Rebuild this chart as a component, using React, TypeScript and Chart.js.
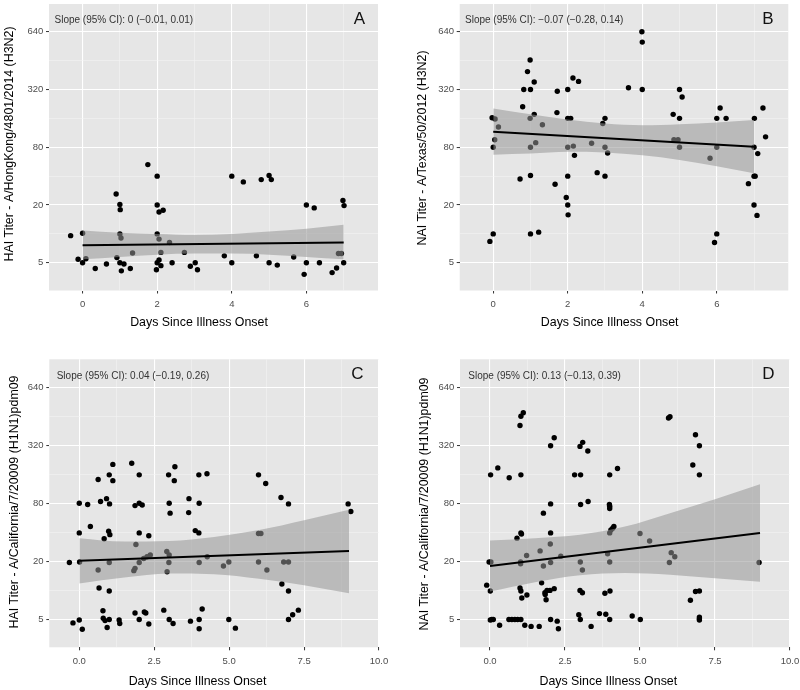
import React, { useEffect, useRef } from 'react';
import { Chart, registerables } from 'chart.js';

Chart.register(...registerables);

const FONT = '"Liberation Sans", Arial, Helvetica, sans-serif';

// ---- shared axis definitions (y = position on the titer scale, 5 -> 0, 20 -> 1, ...)
const yMajorValues = [0, 1, 2, 3, 4];
const yMajorLabels = ['5', '20', '80', '320', '640'];
const yMinorValues = [0.5, 1.5, 2.5, 3.5];

const weekMajorValues = [0, 2, 4, 6];
const weekMajorLabels = ['0', '2', '4', '6'];
const weekMinorValues = [1, 3, 5, 7];

const longMajorValues = [0, 2.5, 5, 7.5, 10];
const longMajorLabels = ['0.0', '2.5', '5.0', '7.5', '10.0'];
const longMinorValues = [1.25, 3.75, 6.25, 8.75];

// ---- Panel A: HAI A/HongKong/4801/2014 (H3N2)
const aDays = [-0.32, -0.12, 0.0, 0.0, 0.09, 0.34, 0.64, 0.9, 1.0, 1.01, 1.0, 1.03, 0.92, 1.0, 1.11, 1.04, 1.28, 1.34, 1.75, 2.0, 2.0, 2.05, 2.16, 2.0, 2.05, 2.1, 2.33, 2.0, 2.05, 1.98, 2.1, 2.4, 2.73, 2.89, 3.02, 3.08, 3.8, 4.0, 4.0, 4.31, 4.66, 4.79, 5.0, 5.06, 5.0, 5.22, 5.66, 6.0, 6.21, 6.0, 5.94, 6.35, 6.69, 6.81, 6.86, 6.94, 6.98, 7.01, 7.0];
const aTiter = [0.47, 0.06, 0.0, 0.51, 0.07, -0.1, -0.02, 1.19, 1.01, 0.92, 0.5, 0.43, 0.09, 0.0, -0.02, -0.14, -0.1, 0.17, 1.7, 1.5, 1.0, 0.88, 0.91, 0.5, 0.41, 0.18, 0.35, 0.0, 0.05, -0.12, -0.05, 0.0, 0.18, -0.06, 0.0, -0.12, 0.12, 0.0, 1.5, 1.4, 0.12, 1.44, 1.51, 1.44, 0.0, -0.04, 0.1, 1.0, 0.95, 0.0, -0.2, 0.0, -0.17, -0.09, 0.16, 0.16, 1.08, 0.99, 0.0];
const aFitDays = [0, 7];
const aFitTiter = [0.305, 0.35];
const aBandDays = [0, 1, 2, 3, 4, 5, 6, 7];
const aBandUpper = [0.56, 0.52, 0.5, 0.48, 0.5, 0.54, 0.59, 0.66];
const aBandLower = [0.06, 0.1, 0.14, 0.16, 0.16, 0.14, 0.1, 0.06];

// ---- Panel B: NAI A/Texas/50/2012 (H3N2)
const bDays = [-0.09, 0.0, -0.03, 0.05, 0.14, 0.04, 0.0, 0.99, 0.92, 1.1, 0.82, 1.0, 0.79, 1.1, 0.99, 1.32, 1.0, 1.14, 0.72, 1.0, 1.0, 1.22, 1.72, 1.71, 2.0, 2.14, 2.29, 2.0, 2.08, 2.0, 2.15, 2.18, 1.66, 2.0, 1.96, 2.0, 2.01, 2.64, 2.94, 3.0, 3.0, 3.07, 2.79, 3.0, 3.99, 4.0, 3.63, 4.0, 5.0, 5.07, 4.83, 5.0, 4.85, 4.96, 5.0, 6.09, 6.0, 6.25, 6.0, 5.82, 6.0, 5.94, 7.01, 7.24, 7.31, 7.0, 7.1, 7.0, 7.03, 6.85, 7.0, 7.08];
const bTiter = [0.37, 0.5, 2.51, 2.49, 2.35, 2.13, 2.0, 3.51, 3.31, 3.13, 3.0, 3.0, 2.7, 2.57, 2.5, 2.39, 2.0, 2.08, 1.45, 1.51, 0.5, 0.53, 2.97, 2.6, 3.0, 3.2, 3.14, 2.5, 2.5, 2.0, 2.02, 1.86, 1.36, 1.5, 1.13, 1.0, 0.83, 2.07, 2.41, 2.5, 2.0, 1.9, 1.56, 1.5, 4.0, 3.82, 3.03, 3.0, 3.0, 2.87, 2.57, 2.5, 2.13, 2.13, 2.0, 2.68, 2.5, 2.5, 2.0, 1.81, 0.5, 0.35, 2.5, 2.68, 2.18, 2.0, 1.89, 1.5, 1.5, 1.37, 1.0, 0.82];
const bFitDays = [0, 7];
const bFitTiter = [2.27, 2.01];
const bBandDays = [0, 1, 2, 3, 4, 5, 6, 7];
const bBandUpper = [2.67, 2.57, 2.48, 2.41, 2.38, 2.4, 2.43, 2.47];
const bBandLower = [1.87, 1.89, 1.92, 1.91, 1.86, 1.78, 1.67, 1.55];

// ---- Panel C: HAI A/California/7/2009 (H1N1)pdm09
const cDays = [-0.33, 0.01, 0.0, 0.28, 0.0, 0.37, -0.21, 0.0, 0.1, 0.63, 1.12, 1.0, 1.12, 0.71, 0.91, 1.01, 0.98, 1.02, 0.83, 0.63, 1.0, 0.66, 1.0, 0.79, 0.8, 0.86, 0.93, 1.0, 1.33, 1.35, 1.75, 2.0, 1.86, 2.0, 2.1, 2.0, 2.32, 1.89, 1.86, 1.82, 2.0, 2.15, 2.26, 2.37, 1.86, 2.0, 2.17, 2.22, 2.32, 2.98, 3.19, 3.17, 3.0, 3.03, 2.92, 3.0, 2.99, 2.93, 2.82, 3.0, 3.13, 3.66, 3.65, 3.87, 3.99, 3.99, 4.26, 4.0, 4.0, 4.27, 3.71, 4.0, 4.0, 4.1, 4.81, 4.99, 4.99, 5.21, 5.98, 6.22, 6.73, 6.98, 5.98, 6.06, 5.98, 6.26, 6.82, 6.98, 6.76, 6.98, 6.98, 7.12, 7.31, 8.97, 9.06];
const cTiter = [0.98, 0.99, 2.0, 1.98, 1.49, 1.6, -0.06, -0.01, -0.17, 2.41, 2.67, 2.49, 2.39, 2.03, 2.08, 1.99, 1.52, 1.46, 1.39, 0.85, 0.98, 0.54, 0.49, 0.15, 0.02, -0.02, -0.14, 0.0, -0.01, -0.07, 2.69, 2.49, 1.96, 2.0, 1.97, 1.49, 1.44, 1.29, 0.88, 0.84, 0.98, 1.05, 1.08, 1.11, 0.11, 0.0, 0.13, 0.11, -0.08, 2.49, 2.63, 2.39, 2.0, 1.83, 1.17, 1.11, 0.98, 0.82, 0.16, 0.0, -0.07, 2.08, 1.84, 1.53, 1.49, 2.49, 2.51, 2.0, 0.98, 1.08, -0.03, 0.0, -0.16, 0.18, 0.92, 0.99, 0.0, -0.15, 2.49, 2.34, 2.1, 1.99, 1.48, 1.48, 0.99, 0.85, 0.99, 0.99, 0.61, 0.49, 0.0, 0.08, 0.16, 1.99, 1.86];
const cFitDays = [0, 9];
const cFitTiter = [1.01, 1.18];
const cBandDays = [0, 1.5, 3, 4.5, 6, 7.5, 9];
const cBandUpper = [1.4, 1.34, 1.35, 1.42, 1.54, 1.71, 1.89];
const cBandLower = [0.62, 0.72, 0.79, 0.78, 0.7, 0.59, 0.45];

// ---- Panel D: NAI A/California/7/2009 (H1N1)pdm09
const dDays = [-0.11, 0.01, -0.03, 0.03, 0.02, 0.26, 0.01, 0.06, 0.11, 0.32, 0.64, 1.03, 1.0, 1.03, 1.11, 0.9, 1.03, 1.05, 1.22, 1.02, 1.02, 1.0, 1.03, 1.23, 1.06, 0.63, 0.73, 0.83, 0.92, 1.03, 1.16, 1.37, 1.64, 1.78, 1.67, 1.78, 1.72, 1.83, 1.9, 2.0, 2.14, 1.87, 1.84, 2.02, 2.14, 2.02, 2.02, 2.01, 2.02, 2.36, 2.02, 2.24, 2.28, 2.82, 3.02, 3.0, 3.09, 3.26, 3.02, 3.27, 3.01, 3.08, 3.0, 3.08, 2.96, 3.01, 3.37, 3.65, 3.86, 3.99, 3.83, 4.0, 3.99, 4.25, 3.98, 3.99, 3.99, 3.99, 4.03, 4.09, 4.13, 3.92, 3.99, 5.95, 6.0, 6.85, 6.98, 6.76, 6.98, 5.0, 5.32, 6.04, 6.16, 5.98, 8.97, 6.85, 6.98, 6.68, 4.74, 5.01, 6.98, 6.98, 6.98];
const dTiter = [0.59, 0.49, 0.99, 0.99, 2.49, 2.61, -0.01, 0.0, 0.0, -0.1, 2.44, 2.49, 3.34, 3.5, 3.56, 1.4, 1.49, 1.47, 1.1, 0.99, 0.96, 0.54, 0.49, 0.42, 0.37, 0.0, 0.0, 0.0, 0.0, 0.0, -0.1, -0.12, -0.12, 1.83, 1.18, 0.92, 0.63, 0.46, 0.5, 0.5, 0.53, 0.34, 0.43, 2.99, 3.13, 1.99, 1.49, 1.3, 0.98, 1.09, 0.0, -0.03, -0.16, 2.49, 2.49, 2.98, 3.05, 2.9, 1.98, 2.03, 0.99, 0.85, 0.5, 0.46, 0.08, 0.0, -0.12, 0.1, 0.09, 0.0, 0.45, 0.49, 2.49, 2.6, 1.98, 1.95, 1.91, 1.49, 1.54, 1.57, 1.6, 1.13, 0.99, 3.47, 3.49, 3.18, 2.99, 2.66, 2.49, 1.48, 1.35, 1.15, 1.08, 0.98, 0.98, 0.48, 0.49, 0.33, 0.06, 0.0, 0.04, 0.01, -0.01];
const dFitDays = [0, 9];
const dFitTiter = [0.92, 1.49];
const dBandDays = [0, 1.5, 3, 4.5, 6, 7.5, 9];
const dBandUpper = [1.36, 1.4, 1.46, 1.6, 1.83, 2.07, 2.33];
const dBandLower = [0.48, 0.64, 0.76, 0.8, 0.77, 0.71, 0.65];

const PANEL_BG = '#e6e6e6';
const BAND_FILL = 'rgba(150,150,150,0.55)';

type PanelDef = {
  left: number; top: number;
  days: number[]; titer: number[];
  fitDays: number[]; fitTiter: number[];
  bandDays: number[]; bandUpper: number[]; bandLower: number[];
  xMin: number; xMax: number;
  xMajor: number[]; xMajorLabels: string[]; xMinor: number[];
  plotLeft: number; plotRight: number; plotTop: number; plotBottom: number;
  slope: string; slopeX: number; slopeY: number;
  letter: string; letterX: number; letterY: number;
  xTitle: string; xTitleX: number; xTitleY: number;
  yTitle: string; yTitleX: number; yTitleY: number;
};

const W = 400;
const H = 345;

const panels: PanelDef[] = [
  {
    left: 0, top: 0, days: aDays, titer: aTiter, fitDays: aFitDays, fitTiter: aFitTiter,
    bandDays: aBandDays, bandUpper: aBandUpper, bandLower: aBandLower,
    xMin: -0.9, xMax: 7.92, xMajor: weekMajorValues, xMajorLabels: weekMajorLabels, xMinor: weekMinorValues,
    plotLeft: 49, plotRight: 378, plotTop: 2.7, plotBottom: 290.5,
    slope: 'Slope (95% CI): 0 (\u22120.01, 0.01)', slopeX: 54.5, slopeY: 20.7,
    letter: 'A', letterX: 359.5, letterY: 19.5,
    xTitle: 'Days Since Illness Onset', xTitleX: 199, xTitleY: 322.7,
    yTitle: 'HAI Titer - A/HongKong/4801/2014 (H3N2)', yTitleX: 9.5, yTitleY: 144,
  },
  {
    left: 400, top: 0, days: bDays, titer: bTiter, fitDays: bFitDays, fitTiter: bFitTiter,
    bandDays: bBandDays, bandUpper: bBandUpper, bandLower: bBandLower,
    xMin: -0.9, xMax: 7.92, xMajor: weekMajorValues, xMajorLabels: weekMajorLabels, xMinor: weekMinorValues,
    plotLeft: 59.7, plotRight: 388.3, plotTop: 2.7, plotBottom: 290.5,
    slope: 'Slope (95% CI): \u22120.07 (\u22120.28, 0.14)', slopeX: 65, slopeY: 20.7,
    letter: 'B', letterX: 368, letterY: 19.5,
    xTitle: 'Days Since Illness Onset', xTitleX: 209.7, xTitleY: 322.7,
    yTitle: 'NAI Titer - A/Texas/50/2012 (H3N2)', yTitleX: 22.5, yTitleY: 148,
  },
  {
    left: 0, top: 345, days: cDays, titer: cTiter, fitDays: cFitDays, fitTiter: cFitTiter,
    bandDays: cBandDays, bandUpper: cBandUpper, bandLower: cBandLower,
    xMin: -1, xMax: 10, xMajor: longMajorValues, xMajorLabels: longMajorLabels, xMinor: longMinorValues,
    plotLeft: 49.3, plotRight: 379, plotTop: 14.3, plotBottom: 302.3,
    slope: 'Slope (95% CI): 0.04 (\u22120.19, 0.26)', slopeX: 56.7, slopeY: 31,
    letter: 'C', letterX: 357.5, letterY: 29.5,
    xTitle: 'Days Since Illness Onset', xTitleX: 197.5, xTitleY: 336.7,
    yTitle: 'HAI Titer - A/California/7/20009 (H1N1)pdm09', yTitleX: 15, yTitleY: 157,
  },
  {
    left: 400, top: 345, days: dDays, titer: dTiter, fitDays: dFitDays, fitTiter: dFitTiter,
    bandDays: dBandDays, bandUpper: dBandUpper, bandLower: dBandLower,
    xMin: -1, xMax: 10, xMajor: longMajorValues, xMajorLabels: longMajorLabels, xMinor: longMinorValues,
    plotLeft: 60, plotRight: 390, plotTop: 14.3, plotBottom: 302.3,
    slope: 'Slope (95% CI): 0.13 (\u22120.13, 0.39)', slopeX: 68.3, slopeY: 31,
    letter: 'D', letterX: 368.3, letterY: 29.5,
    xTitle: 'Days Since Illness Onset', xTitleX: 208.3, xTitleY: 336.7,
    yTitle: 'NAI Titer - A/California/7/20009 (H1N1)pdm09', yTitleX: 25, yTitleY: 159,
  },
];

function axis(majors: number[], labels: string[], minors: number[], min: number, max: number,
  fit: (s: any) => void, padding: number) {
  const all = [...majors, ...minors].filter((v) => v >= min && v <= max).sort((a, b) => a - b);
  const isMajor = (c: any) => !!(c && c.tick && majors.indexOf(c.tick.value) >= 0);
  return {
    type: 'linear' as const,
    min, max,
    afterBuildTicks: (s: any) => { s.ticks = all.map((v) => ({ value: v })); },
    afterFit: fit,
    ticks: {
      autoSkip: false, maxRotation: 0, minRotation: 0, padding,
      color: '#4d4d4d', font: { size: 9.5, family: FONT },
      callback: (v: any) => { const i = majors.indexOf(Number(v)); return i >= 0 ? labels[i] : ''; },
    },
    grid: {
      drawTicks: true, tickLength: 3, tickWidth: 1,
      color: (c: any) => (isMajor(c) ? '#ffffff' : '#f4f4f4'),
      lineWidth: (c: any) => (isMajor(c) ? 1.1 : 0.55),
      tickColor: (c: any) => (isMajor(c) ? '#333333' : 'rgba(0,0,0,0)'),
    },
    border: { display: false },
  };
}

function buildConfig(p: PanelDef): any {
  const decor = {
    id: 'decor',
    beforeDraw(chart: any) {
      const { ctx, chartArea: a } = chart;
      ctx.save();
      ctx.fillStyle = PANEL_BG;
      ctx.fillRect(a.left, a.top, a.right - a.left, a.bottom - a.top);
      ctx.restore();
    },
    afterDraw(chart: any) {
      const ctx = chart.ctx;
      ctx.save();
      ctx.textBaseline = 'middle';
      ctx.fillStyle = '#333333';
      ctx.font = `10px ${FONT}`;
      ctx.textAlign = 'left';
      ctx.fillText(p.slope, p.slopeX, p.slopeY);
      ctx.fillStyle = '#111111';
      ctx.font = `17px ${FONT}`;
      ctx.textAlign = 'center';
      ctx.fillText(p.letter, p.letterX, p.letterY);
      ctx.fillStyle = '#000000';
      ctx.font = `12.4px ${FONT}`;
      ctx.fillText(p.xTitle, p.xTitleX, p.xTitleY);
      ctx.translate(p.yTitleX, p.yTitleY);
      ctx.rotate(-Math.PI / 2);
      ctx.fillText(p.yTitle, 0, 0);
      ctx.restore();
    },
  };

  const points = p.days.map((d, i) => ({ x: d, y: p.titer[i] }));
  const upper = p.bandDays.map((d, i) => ({ x: d, y: p.bandUpper[i] }));
  const lower = p.bandDays.map((d, i) => ({ x: d, y: p.bandLower[i] }));
  const fit = p.fitDays.map((d, i) => ({ x: d, y: p.fitTiter[i] }));

  return {
    type: 'scatter',
    data: {
      datasets: [
        {
          type: 'scatter', data: points, order: 3,
          pointRadius: 2.7, pointBackgroundColor: '#000000', pointBorderWidth: 0, pointBorderColor: 'rgba(0,0,0,0)',
          showLine: false,
        },
        {
          type: 'line', data: upper, order: 2, fill: '+1', backgroundColor: BAND_FILL,
          borderColor: 'rgba(0,0,0,0)', borderWidth: 0, pointRadius: 0, cubicInterpolationMode: 'monotone',
        },
        {
          type: 'line', data: lower, order: 2, fill: false,
          borderColor: 'rgba(0,0,0,0)', borderWidth: 0, pointRadius: 0, cubicInterpolationMode: 'monotone',
        },
        {
          type: 'line', data: fit, order: 1, fill: false,
          borderColor: '#000000', borderWidth: 2, pointRadius: 0,
        },
      ],
    },
    options: {
      animation: false,
      responsive: false,
      devicePixelRatio: 1,
      events: [],
      layout: { padding: { left: 0, top: p.plotTop, right: W - p.plotRight, bottom: 0 } },
      plugins: { legend: { display: false }, tooltip: { enabled: false } },
      scales: {
        x: axis(p.xMajor, p.xMajorLabels, p.xMinor, p.xMin, p.xMax, (s: any) => {
          s.height = H - p.plotBottom; s.paddingLeft = 0; s.paddingRight = 0;
        }, 5.3),
        y: axis(yMajorValues, yMajorLabels, yMinorValues, -0.48, 4.48, (s: any) => {
          s.width = p.plotLeft; s.paddingTop = 0; s.paddingBottom = 0;
        }, 2.7),
      },
    },
    plugins: [decor],
  };
}

function Panel({ p }: { p: PanelDef }) {
  const ref = useRef<HTMLCanvasElement>(null);
  useEffect(() => {
    const chart = new Chart(ref.current as HTMLCanvasElement, buildConfig(p));
    return () => chart.destroy();
  }, [p]);
  return (
    <canvas
      ref={ref}
      width={W}
      height={H}
      style={{ position: 'absolute', left: p.left, top: p.top, width: W, height: H }}
    />
  );
}

export default function App() {
  Chart.defaults.font.family = FONT;
  return (
    <div style={{ position: 'absolute', left: 0, top: 0, width: 800, height: 690, background: '#ffffff' }}>
      {panels.map((p, i) => (
        <Panel key={i} p={p} />
      ))}
    </div>
  );
}
